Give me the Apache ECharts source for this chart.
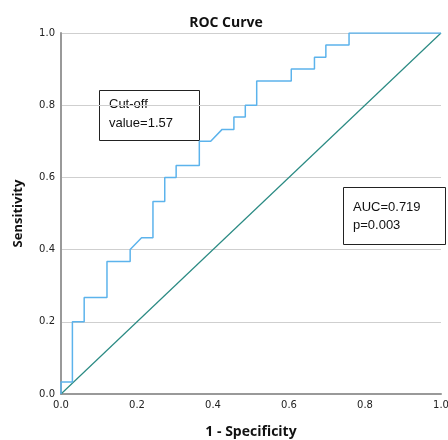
<!DOCTYPE html>
<html>
<head>
    <meta charset="UTF-8">
    <title>ROC Curve</title>
    <script src="https://cdn.jsdelivr.net/npm/echarts@6/dist/echarts.min.js"></script>
    <style type="text/css">
        html, body, #main {
            height: 100%;
            width: 100%;
            margin: 0;
            padding: 0;
            background: #fff;
        }
    </style>
</head>
<body>
<div id="main"></div>
<script type="text/javascript">
    // 1 - specificity / sensitivity
    var fpr = [0, 0, 0.030, 0.030, 0.061, 0.061, 0.121, 0.121, 0.182, 0.182, 0.212, 0.242, 0.242,
        0.273, 0.273, 0.303, 0.303, 0.364, 0.364, 0.394, 0.424, 0.455, 0.455, 0.485, 0.485,
        0.515, 0.515, 0.606, 0.606, 0.667, 0.667, 0.697, 0.697, 0.758, 0.758, 1];
    var tpr = [0, 0.033, 0.033, 0.200, 0.200, 0.267, 0.267, 0.367, 0.367, 0.400, 0.433, 0.433, 0.533,
        0.533, 0.600, 0.600, 0.633, 0.633, 0.700, 0.700, 0.733, 0.733, 0.767, 0.767, 0.800,
        0.800, 0.867, 0.867, 0.900, 0.900, 0.933, 0.933, 0.967, 0.967, 1, 1];
    var refX = [0, 1];
    var refY = [0, 1];

    function pairs(xs, ys) {
        return xs.map(function (x, i) { return [x, ys[i]]; });
    }

    var mycharts = echarts.init(document.getElementById('main'));
    var option = {
        animation: false,
        title: {
            text: 'ROC Curve',
            left: 221,
            top: 11,
            textAlign: 'center',
            textStyle: {fontFamily: 'Open Sans', fontWeight: 'bold', fontSize: 14, color: '#111'}
        },
        // fixed plot box, v6 would otherwise shrink it around the labels
        grid: {left: 61, right: 7, top: 33, bottom: 46, outerBoundsMode: 'none'},
        xAxis: {
            type: 'value', min: 0, max: 1, interval: 0.2,
            name: '1 - Specificity',
            nameLocation: 'middle',
            nameGap: 31,
            nameTextStyle: {fontFamily: 'Open Sans', fontWeight: 'bold', fontSize: 14, color: '#111'},
            axisLine: {show: true, onZero: false, lineStyle: {color: '#999', width: 2}},
            axisTick: {show: false},
            splitLine: {show: false},
            axisLabel: {
                margin: 6, fontFamily: 'DejaVu Sans', fontSize: 10, color: '#222',
                formatter: function (v) { return v.toFixed(1); }
            }
        },
        yAxis: {
            type: 'value', min: 0, max: 1, interval: 0.2,
            name: 'Sensitivity',
            nameLocation: 'middle',
            nameGap: 36,
            nameTextStyle: {fontFamily: 'Open Sans', fontWeight: 'bold', fontSize: 13, color: '#111'},
            axisLine: {show: true, onZero: false, lineStyle: {color: '#999', width: 2}},
            axisTick: {show: false},
            splitLine: {lineStyle: {color: '#cfcfcf', width: 1}},
            axisLabel: {
                margin: 6, fontFamily: 'DejaVu Sans', fontSize: 10, color: '#222',
                formatter: function (v) { return v.toFixed(1); }
            }
        },
        series: [
            {
                name: 'Reference',
                type: 'line',
                data: pairs(refX, refY),
                symbol: 'none',
                lineStyle: {color: '#2a8a83', width: 1.2}
            },
            {
                name: 'ROC',
                type: 'line',
                data: pairs(fpr, tpr),
                symbol: 'none',
                lineStyle: {color: '#5cb3ec', width: 1.5}
            }
        ],
        graphic: [
            {type: 'rect', shape: {x: 99.5, y: 90.5, width: 100, height: 50},
                style: {fill: 'none', stroke: '#222', lineWidth: 1}},
            {type: 'text', x: 109, y: 95,
                style: {text: 'Cut-off\nvalue=1.57', fontFamily: 'Liberation Sans', fontSize: 13,
                    lineHeight: 19, fill: '#111'}},
            {type: 'rect', shape: {x: 343.5, y: 187.5, width: 102, height: 57},
                style: {fill: 'none', stroke: '#222', lineWidth: 1}},
            {type: 'text', x: 353, y: 198,
                style: {text: 'AUC=0.719\np=0.003', fontFamily: 'Liberation Sans', fontSize: 13,
                    lineHeight: 18, fill: '#111'}}
        ]
    };
    mycharts.setOption(option);
</script>
</body>
</html>
